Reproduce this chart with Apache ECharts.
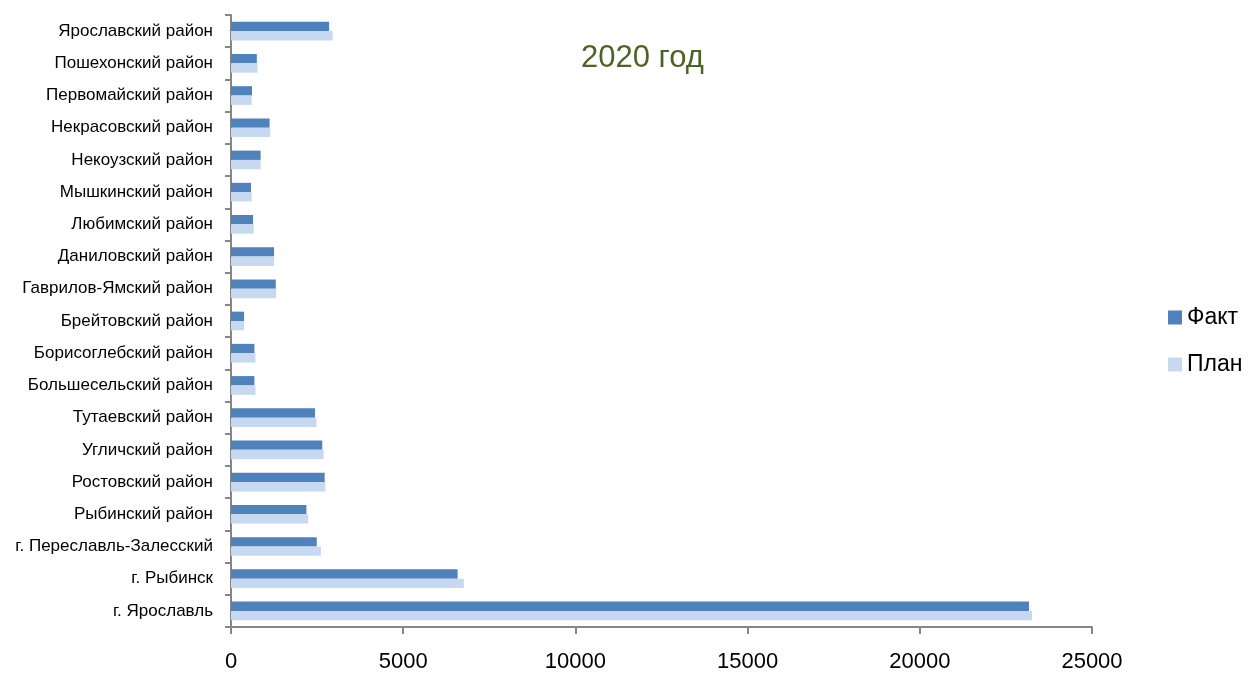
<!DOCTYPE html>
<html>
<head>
<meta charset="utf-8">
<script src="https://cdn.jsdelivr.net/npm/echarts@6/dist/echarts.min.js"></script>
<style>
  html, body { margin: 0; padding: 0; background: #fff; }
  #chart { width: 1249px; height: 673px; }
</style>
</head>
<body>
<div id="chart"></div>
<script>
// districts, bottom to top as on the axis
const districts = [
  'г. Ярославль', 'г. Рыбинск', 'г. Переславль-Залесский', 'Рыбинский район',
  'Ростовский район', 'Угличский район', 'Тутаевский район', 'Большесельский район',
  'Борисоглебский район', 'Брейтовский район', 'Гаврилов-Ямский район', 'Даниловский район',
  'Любимский район', 'Мышкинский район', 'Некоузский район', 'Некрасовский район',
  'Первомайский район', 'Пошехонский район', 'Ярославский район'
];
const fact = [23170, 6580, 2490, 2190, 2720, 2650, 2440, 680, 680, 380, 1300, 1250, 640, 580, 860, 1120, 610, 750, 2850];
const plan = [23260, 6760, 2610, 2240, 2740, 2690, 2480, 710, 710, 380, 1310, 1250, 660, 600, 860, 1140, 600, 770, 2950];
const xTicks = [0, 5000, 10000, 15000, 20000, 25000];

const font = '"Liberation Sans Narrow", "Liberation Sans", Arial, sans-serif';

let chartDom = document.getElementById('chart');
let myChart = echarts.init(chartDom);
let option;

option = {
  animation: false,
  title: {
    text: '2020 год',
    left: 576,
    top: 38,
    textStyle: { color: '#4f6228', fontFamily: font, fontSize: 31, fontWeight: 'normal' },
  },
  legend: {
    orient: 'vertical',
    left: 1163,
    top: 301,
    itemGap: 24,
    itemWidth: 14,
    itemHeight: 14,
    icon: 'rect',
    textStyle: { color: '#000', fontFamily: font, fontSize: 23 },
    data: ['Факт', 'План'],
  },
  grid: { left: 231, right: 157, top: 15, bottom: 45, containLabel: false },
  xAxis: {
    type: 'value',
    min: xTicks[0],
    max: xTicks[xTicks.length - 1],
    interval: 5000,
    splitLine: { show: false },
    axisLine: { show: true, lineStyle: { color: '#868686', width: 2 } },
    axisTick: { show: true, length: 7, lineStyle: { color: '#868686', width: 2 } },
    axisLabel: {
      color: '#000', fontFamily: font, fontSize: 22, margin: 24,
      formatter: (v) => String(v),
    },
  },
  yAxis: {
    type: 'category',
    data: districts,
    axisLine: { lineStyle: { color: '#868686', width: 2 } },
    axisTick: { show: true, length: 6, lineStyle: { color: '#868686', width: 2 } },
    axisLabel: { color: '#000', fontFamily: font, fontSize: 17, margin: 18 },
  },
  series: [
    {
      name: 'Факт',
      type: 'bar',
      data: fact,
      barGap: '0%',
      barCategoryGap: '42%',
      itemStyle: { color: '#4f81bd' },
    },
    {
      name: 'План',
      type: 'bar',
      data: plan,
      barGap: '0%',
      barCategoryGap: '42%',
      itemStyle: { color: '#c6d9f1' },
    },
  ],
};

option && myChart.setOption(option);
</script>
</body>
</html>
